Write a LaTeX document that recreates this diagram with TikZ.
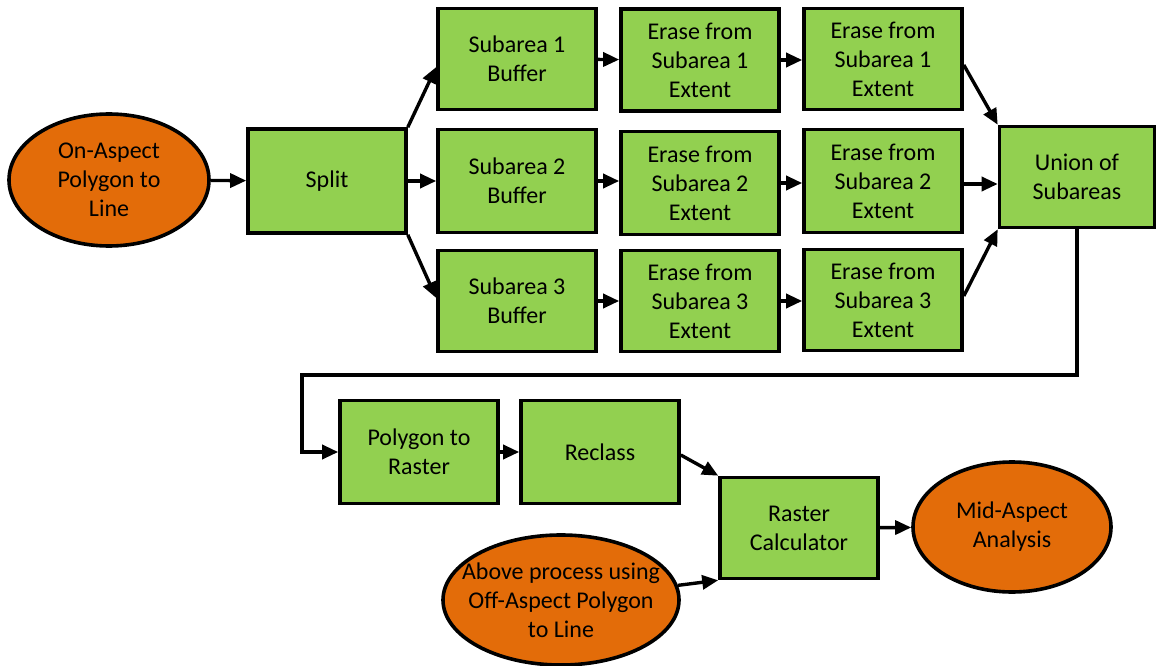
\documentclass[tikz,border=0pt]{standalone}
\usepackage{fontspec}
\setmainfont{Carlito}
\usetikzlibrary{arrows.meta,shapes.geometric}
\definecolor{boxgreen}{HTML}{92D050}
\definecolor{ellorange}{HTML}{E36C09}
\begin{document}
\begin{tikzpicture}[x=1pt,y=-1pt,
  every node/.style={font=\fontsize{24pt}{29pt}\selectfont, align=center, inner sep=0pt},
  proc/.style={rectangle, draw=black, line width=3.6pt, fill=boxgreen, minimum width=158pt, minimum height=101pt},
  term/.style={ellipse, draw=black, line width=3.6pt, fill=ellorange},
  arr/.style={line width=3.4pt, -{Triangle[length=16pt,width=14pt]}}]
\useasboundingbox (0,0) rectangle (1157,666);
\node[term, minimum width=200pt, minimum height=132pt] (on) at (109,180) {On-Aspect\\Polygon to\\Line};
\node[proc, minimum height=104pt] (split) at (327,181) {Split};
\node[proc] (b1) at (517,59) {Subarea 1\\Buffer};
\node[proc, minimum height=103pt] (b2) at (517,181) {Subarea 2\\Buffer};
\node[proc] (b3) at (517,301) {Subarea 3\\Buffer};
\node[proc, minimum height=102pt] (e1a) at (700,60) {Erase from\\Subarea 1\\Extent};
\node[proc, minimum height=103pt] (e2a) at (700,183) {Erase from\\Subarea 2\\Extent};
\node[proc] (e3a) at (700,301) {Erase from\\Subarea 3\\Extent};
\node[proc] (e1b) at (883,59) {Erase from\\Subarea 1\\Extent};
\node[proc, minimum height=103pt] (e2b) at (883,181) {Erase from\\Subarea 2\\Extent};
\node[proc] (e3b) at (883,300) {Erase from\\Subarea 3\\Extent};
\node[proc, minimum width=155pt] (u) at (1077,177) {Union of\\Subareas};
\node[proc, minimum height=103pt] (p2r) at (419,452) {Polygon to\\Raster};
\node[proc, minimum height=103pt] (rc) at (600,452) {Reclass};
\node[proc] (calc) at (799,528) {Raster\\Calculator};
\node[term, minimum width=198pt, minimum height=130pt] (mid) at (1012,527) {Mid-Aspect\\Analysis};
\node[term, inner xsep=-18pt, minimum width=236pt, minimum height=130pt] (above) at (561,600) {Above process using\\Off-Aspect Polygon\\to Line};
\coordinate (c1) at (1078,375);
\coordinate (c2) at (302,375);
\draw[arr] (on) -- (split);
\draw[arr] (split.north east) -- ([yshift=-8pt]b1.west);
\draw[arr] (split.east) -- (b2.west);
\draw[arr] (split.south east) -- ([yshift=3pt]b3.west);
\draw[arr] (b1) -- (e1a);
\draw[arr] (b2) -- (b2 -| e2a.west);
\draw[arr] (b3) -- (e3a);
\draw[arr] (e1a) -- (e1a -| e1b.west);
\draw[arr] (e2a) -- (e2a -| e2b.west);
\draw[arr] (e3a) -- (e3a -| e3b.west);
\draw[arr] ([yshift=-6pt]e1b.east) -- (u.north west);
\draw[arr] ([yshift=-3pt]e2b.east) -- ([yshift=-3pt]e2b.east -| u.west);
\draw[arr] ([yshift=4pt]e3b.east) -- (u.south west);
\draw[arr] (u.south) -- (u.south |- c1) -- (c2) |- (p2r.west);
\draw[arr] (p2r) -- (rc);
\draw[arr] ([yshift=-3pt]rc.east) -- (calc.north west);
\draw[arr] (above) -- (calc.south west);
\draw[arr] (calc) -- (mid);
\end{tikzpicture}
\end{document}
